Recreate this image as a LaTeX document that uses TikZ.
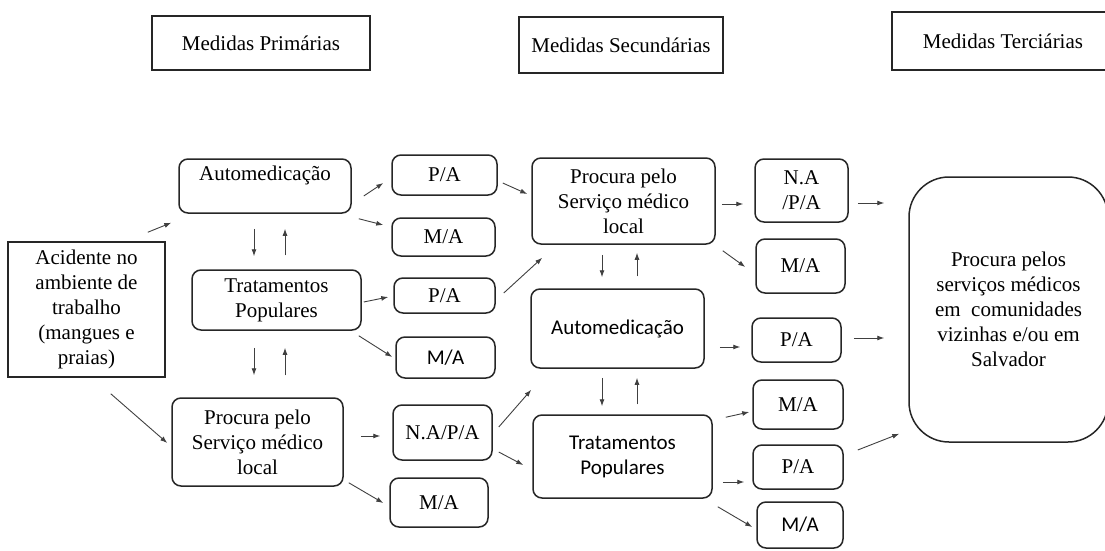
\documentclass[tikz,border=0pt]{standalone}
\usepackage{fontspec}
\setmainfont{Liberation Serif}
\newfontfamily\calibrifont{Carlito}
\usetikzlibrary{arrows.meta,positioning}
\tikzset{
  box/.style={
    rectangle,
    rounded corners=9pt,
    draw=black!85,
    line width=1.5pt,
    align=center,
    inner sep=0pt,
    font=\fontsize{21}{25}\selectfont
  },
  sansbox/.style={
    box,
    font=\fontsize{21}{25}\selectfont\calibrifont
  },
  bigbox/.style={
    box,
    rounded corners=40pt
  },
  headbox/.style={
    rectangle,
    draw=black!85,
    line width=1.3pt,
    align=center,
    inner sep=0pt,
    font=\fontsize{21}{25}\selectfont
  },
  startbox/.style={
    headbox,
    line width=1.5pt
  },
  arrow/.style={
    -{Latex[length=7pt,width=5pt]},
    line width=0.9pt,
    draw=black!75
  }
}

\begin{document}
\begin{tikzpicture}[x=1pt, y=-1pt]
  \useasboundingbox (0,0) rectangle (1105,551);

  % headers
  \node[headbox, minimum width=218pt, minimum height=54pt] (hprim) at (261,43) {Medidas Primárias};
  \node[headbox, minimum width=204pt, minimum height=56pt] (hsec) at (621,45) {Medidas Secundárias};
  \node[headbox, minimum width=222pt, minimum height=58pt] (hter) at (1003,41) {Medidas Terciárias};

  % primary measures
  \node[startbox, minimum width=157pt, minimum height=135pt] (acid) at (86.5,309.5) {Acidente no\\ambiente de\\trabalho\\(mangues e\\praias)};
  \node[box, minimum width=172pt, minimum height=54pt] (auto1) at (265,186) {Automedicação\\\mbox{}};
  \node[box, minimum width=169pt, minimum height=60pt] (trat1) at (276.5,300) {Tratamentos\\Populares};
  \node[box, minimum width=171pt, minimum height=88pt] (proc1) at (257.5,442) {Procura pelo\\Serviço médico\\local};

  \node[box, minimum width=105pt, minimum height=40pt] (pa1) at (444.5,175) {P/A};
  \node[box, minimum width=103pt, minimum height=38pt] (ma1) at (443.5,237) {M/A};
  \node[box, minimum width=101pt, minimum height=35pt] (pa2) at (444.5,295.5) {P/A};
  \node[sansbox, minimum width=99pt, minimum height=41pt] (ma2) at (445.5,357.5) {M/A};
  \node[box, minimum width=99pt, minimum height=55pt] (nap) at (442.5,432.5) {N.A/P/A};
  \node[box, minimum width=98pt, minimum height=49pt] (ma3) at (439,502.5) {M/A};

  % secondary measures
  \node[box, minimum width=183pt, minimum height=86pt] (proc2) at (623.5,201) {Procura pelo\\Serviço médico\\local};
  \node[sansbox, minimum width=173pt, minimum height=79pt] (auto2) at (617.5,328.5) {Automedicação};
  \node[sansbox, minimum width=179pt, minimum height=83pt] (trat2) at (622.5,456.5) {Tratamentos\\Populares};

  \node[box, minimum width=93pt, minimum height=63pt] (nap2) at (801.5,190.5) {N.A\\/P/A};
  \node[box, minimum width=89pt, minimum height=54pt] (mar1) at (800.5,266) {M/A};
  \node[box, minimum width=89pt, minimum height=44pt] (par2) at (796.5,340) {P/A};
  \node[box, minimum width=90pt, minimum height=49pt] (mar3) at (798,404.5) {M/A};
  \node[box, minimum width=90pt, minimum height=44pt] (par4) at (798,467) {P/A};
  \node[sansbox, minimum width=86pt, minimum height=46pt] (mar5) at (800,525) {M/A};

  % tertiary measures
  \node[bigbox, minimum width=199pt, minimum height=265pt] (big) at (1008.5,309.5) {Procura pelos\\serviços médicos\\em\ \ comunidades\\vizinhas e/ou em\\Salvador};

  % connectors, primary
  \draw[arrow] ([shift={(-18,-9)}]acid.north east) -- ([shift={(-7,9)}]auto1.south west);
  \draw[arrow] ([shift={(-55,16)}]acid.south east) -- ([shift={(-4,1)}]proc1.west);
  \draw[arrow] ([shift={(-11,15)}]auto1.south) -- ([shift={(-22.5,-13)}]trat1.north);
  \draw[arrow] ([shift={(8.5,-14)}]trat1.north) -- ([shift={(20,15)}]auto1.south);
  \draw[arrow] ([shift={(-22.5,17)}]trat1.south) -- ([shift={(-3.5,-22)}]proc1.north);
  \draw[arrow] ([shift={(27.5,-22)}]proc1.north) -- ([shift={(8.5,17)}]trat1.south);
  \draw[arrow] ([shift={(12,10)}]auto1.east) -- ([shift={(-8,8)}]pa1.west);
  \draw[arrow] ([shift={(7,5)}]auto1.south east) -- ([shift={(-8,-12)}]ma1.west);
  \draw[arrow] ([shift={(2,2)}]trat1.east) -- ([shift={(-5,1.5)}]pa2.west);
  \draw[arrow] ([shift={(-3,5)}]trat1.south east) -- ([shift={(-3,-0.5)}]ma2.west);
  \draw[arrow] ([shift={(17,-6)}]proc1.east) -- ([shift={(-12,3.5)}]nap.west);
  \draw[arrow] ([shift={(5,-4)}]proc1.south east) -- ([shift={(-6,0.5)}]ma3.west);

  % connectors, secondary
  \draw[arrow] ([shift={(5,8)}]pa1.east) -- ([shift={(-4,-7)}]proc2.west);
  \draw[arrow] ([shift={(8,-2.5)}]pa2.east) -- ([shift={(11,13)}]proc2.south west);
  \draw[arrow] ([shift={(6,-5.5)}]nap.east) -- ([shift={(1,21)}]auto2.south west);
  \draw[arrow] ([shift={(6,19.5)}]nap.east) -- ([shift={(-9,8.5)}]trat2.west);
  \draw[arrow] ([shift={(-21.5,10)}]proc2.south) -- ([shift={(-15.5,-11)}]auto2.north);
  \draw[arrow] ([shift={(19.5,-12)}]auto2.north) -- ([shift={(13.5,8)}]proc2.south);
  \draw[arrow] ([shift={(-15.5,9)}]auto2.south) -- ([shift={(-20.5,-8)}]trat2.north);
  \draw[arrow] ([shift={(14.5,-10)}]trat2.north) -- ([shift={(19.5,9)}]auto2.south);
  \draw[arrow] ([shift={(6,3)}]proc2.east) -- ([shift={(-11,13.5)}]nap2.west);
  \draw[arrow] ([shift={(7,6)}]proc2.south east) -- ([shift={(-10,1)}]mar1.west);
  \draw[arrow] ([shift={(15,18.5)}]auto2.east) -- ([shift={(-11,7)}]par2.west);
  \draw[arrow] ([shift={(13,3)}]trat2.north east) -- ([shift={(-3,7.5)}]mar3.west);
  \draw[arrow] ([shift={(10,25.5)}]trat2.east) -- ([shift={(-8,15)}]par4.west);
  \draw[arrow] ([shift={(5,8)}]trat2.south east) -- ([shift={(-4,2)}]mar5.west);

  % connectors, tertiary
  \draw[arrow] ([shift={(9,12.5)}]nap2.east) -- ([shift={(-24,-106.5)}]big.west);
  \draw[arrow] ([shift={(12,-2)}]par2.east) -- ([shift={(-24,28.5)}]big.west);
  \draw[arrow] ([shift={(14,-17)}]par4.east) -- ([shift={(-9,-9)}]big.south west);
\end{tikzpicture}
\end{document}
